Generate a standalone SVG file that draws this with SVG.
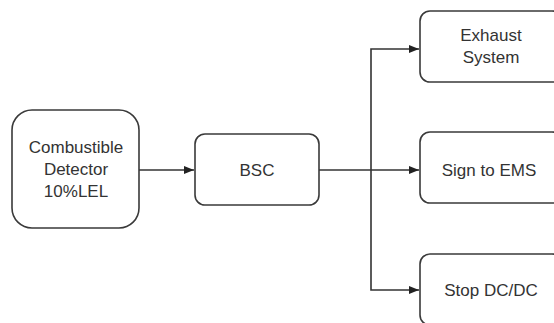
<svg xmlns="http://www.w3.org/2000/svg" width="554" height="323" viewBox="0 0 554 323">
<style>
.box{fill:#fff;stroke:#3a3a3a;stroke-width:1.6}
.t{font-family:"Liberation Sans",Arial,sans-serif;font-size:17px;fill:#333;text-anchor:middle}
.c{fill:none;stroke:#333;stroke-width:1.6}
</style>
<defs>
<marker id="ah" markerWidth="10" markerHeight="8" refX="10" refY="4" orient="auto" markerUnits="userSpaceOnUse">
<path d="M0,0 L10,4 L0,8 Z" fill="#222"/>
</marker>
</defs>
<rect width="554" height="323" fill="#fff"/>
<g id="connectors">
<path class="c" d="M139,170 H194" marker-end="url(#ah)"/>
<path class="c" d="M319,170 H419" marker-end="url(#ah)"/>
<path class="c" d="M371,170 V49 H419" marker-end="url(#ah)"/>
<path class="c" d="M371,170 V290 H419" marker-end="url(#ah)"/>
</g>
<g id="detector">
<rect class="box" x="12" y="110" width="127" height="118" rx="20"/>
<text class="t" x="76" y="153">Combustible</text>
<text class="t" x="76" y="175">Detector</text>
<text class="t" x="76" y="197">10%LEL</text>
</g>
<g id="bsc">
<rect class="box" x="195" y="134" width="124" height="71" rx="10"/>
<text class="t" x="257" y="176">BSC</text>
</g>
<g id="exhaust">
<rect class="box" x="420" y="11" width="142" height="71" rx="10"/>
<text class="t" x="491" y="41">Exhaust</text>
<text class="t" x="491" y="63">System</text>
</g>
<g id="ems">
<rect class="box" x="420" y="132" width="142" height="71" rx="10"/>
<text class="t" x="489" y="176">Sign to EMS</text>
</g>
<g id="stop">
<rect class="box" x="420" y="254" width="142" height="71" rx="10"/>
<text class="t" x="491" y="296">Stop DC/DC</text>
</g>
</svg>
